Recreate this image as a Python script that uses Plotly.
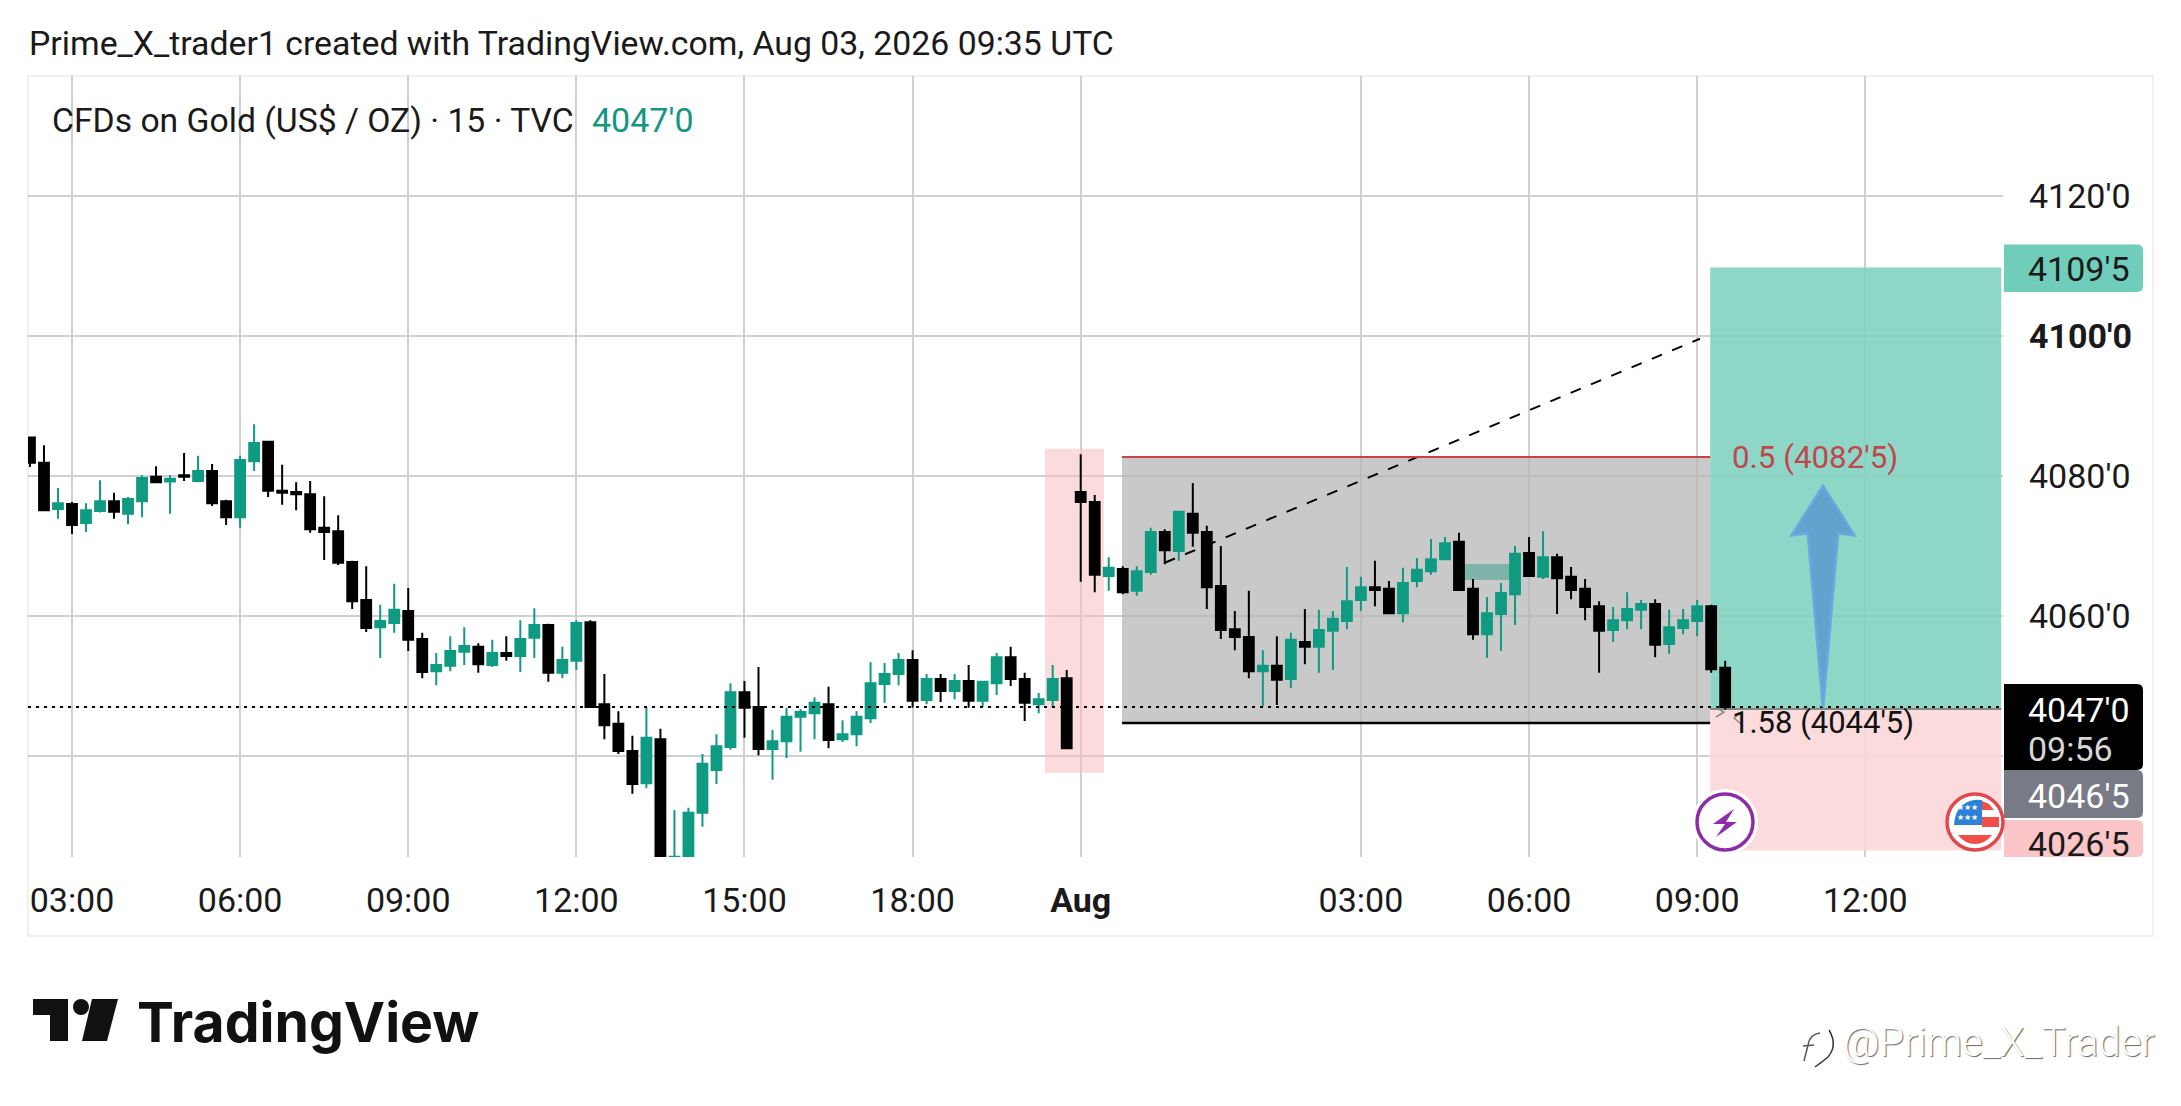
import plotly.graph_objects as go

W, H = 2181, 1106

# plot pane in screen pixels
PANE_LEFT, PANE_RIGHT, PANE_TOP, PANE_BOTTOM = 28, 2003, 76, 857

GREEN = '#0f9a82'
BLACK = '#000000'
FONT = 'Roboto'
TEXT = '#1a1a1a'

# 15 minute bars, index 0 is the 03:00 bar
bar_index = list(range(-3, 119))

opens = [
    4085.5, 4081.9, 4075.3, 4076.0, 4073.3, 4075.0, 4076.4, 4074.6, 4076.4, 4079.9, 4079.2, 4080.1,
    4079.3, 4080.7, 4076.4, 4074.1, 4082.1, 4084.9, 4077.9, 4077.7, 4077.4, 4072.6, 4072.1, 4067.7,
    4062.3, 4058.4, 4059.0, 4060.7, 4056.7, 4052.1, 4052.9, 4054.9, 4055.6, 4053.0, 4054.7, 4054.3,
    4056.9, 4058.7, 4051.9, 4053.6, 4059.1, 4047.4, 4044.6, 4040.7, 4036.1, 4042.4, 4025.2, 4025.0,
    4031.9, 4038.0, 4041.3, 4049.1, 4047.0, 4041.0, 4042.1, 4045.6, 4046.1, 4047.4, 4042.4, 4043.1,
    4045.4, 4050.3, 4051.7, 4053.7, 4048.0, 4051.0, 4049.3, 4050.7, 4047.9, 4050.4, 4054.1, 4051.0,
    4047.4, 4048.0, 4051.1, 4077.7, 4076.3, 4065.7, 4066.7, 4063.6, 4066.3, 4072.0, 4069.3, 4074.6,
    4072.0, 4064.3, 4058.1, 4057.0, 4052.1, 4052.9, 4051.0, 4056.3, 4055.6, 4057.9, 4059.3, 4062.3,
    4064.1, 4063.9, 4060.4, 4065.0, 4066.4, 4068.1, 4070.6, 4063.9, 4057.4, 4060.3, 4063.1, 4069.0,
    4065.6, 4068.4, 4065.6, 4063.9, 4061.4, 4058.0, 4059.4, 4060.9, 4061.7, 4056.0, 4058.3, 4059.3,
    4061.4, 4052.6,
]
closes = [
    4081.9, 4075.1, 4076.1, 4073.0, 4075.1, 4076.4, 4074.9, 4076.7, 4079.7, 4079.1, 4079.6, 4079.9,
    4080.7, 4076.1, 4074.1, 4082.3, 4084.7, 4077.9, 4077.6, 4077.4, 4072.4, 4072.0, 4067.6, 4062.1,
    4058.3, 4059.3, 4060.9, 4056.6, 4052.0, 4053.0, 4055.0, 4055.7, 4053.1, 4054.7, 4054.3, 4056.7,
    4058.7, 4051.9, 4053.7, 4059.0, 4047.0, 4044.4, 4040.7, 4036.0, 4042.6, 4024.5, 4025.6, 4031.9,
    4038.9, 4041.4, 4049.1, 4046.9, 4041.0, 4042.1, 4045.6, 4046.3, 4047.6, 4042.3, 4043.1, 4045.6,
    4050.4, 4051.7, 4053.7, 4047.9, 4051.0, 4049.3, 4050.7, 4047.9, 4050.6, 4054.1, 4051.0, 4047.6,
    4048.1, 4051.0, 4041.1, 4076.3, 4065.9, 4066.9, 4063.4, 4066.4, 4072.0, 4069.4, 4074.9, 4071.9,
    4064.1, 4058.0, 4057.0, 4052.1, 4052.9, 4050.9, 4056.6, 4055.6, 4058.0, 4059.6, 4062.1, 4064.1,
    4063.7, 4060.4, 4064.7, 4066.6, 4068.1, 4070.4, 4063.7, 4057.4, 4060.4, 4063.3, 4068.9, 4065.7,
    4068.4, 4065.4, 4063.7, 4061.3, 4057.9, 4059.4, 4061.0, 4061.7, 4055.9, 4058.4, 4059.4, 4061.4,
    4052.4, 4047.0,
]
highs = [
    4085.5, 4084.4, 4078.3, 4076.3, 4076.1, 4079.4, 4077.6, 4077.0, 4080.1, 4081.4, 4080.1, 4083.3,
    4082.9, 4081.7, 4076.6, 4082.9, 4087.4, 4085.0, 4081.6, 4079.1, 4079.3, 4077.1, 4074.4, 4067.9,
    4067.1, 4061.6, 4064.6, 4064.0, 4057.6, 4054.7, 4057.1, 4058.4, 4056.1, 4056.6, 4057.1, 4059.4,
    4061.1, 4058.9, 4055.6, 4059.4, 4059.4, 4051.7, 4046.4, 4042.9, 4047.0, 4043.9, 4032.3, 4032.6,
    4040.3, 4043.1, 4050.4, 4050.7, 4052.7, 4043.7, 4046.9, 4046.7, 4048.4, 4049.9, 4045.1, 4046.4,
    4053.4, 4053.3, 4054.7, 4055.1, 4051.7, 4051.7, 4051.7, 4053.0, 4050.6, 4054.7, 4055.6, 4051.9,
    4049.0, 4053.0, 4052.3, 4083.1, 4077.3, 4068.4, 4067.1, 4067.1, 4072.6, 4072.4, 4075.0, 4079.0,
    4072.9, 4070.0, 4060.7, 4063.6, 4055.1, 4057.1, 4057.6, 4061.0, 4060.9, 4060.7, 4067.0, 4065.6,
    4067.9, 4065.0, 4066.9, 4068.3, 4071.0, 4071.3, 4071.9, 4065.3, 4062.7, 4064.7, 4070.0, 4071.3,
    4072.1, 4068.9, 4067.0, 4065.3, 4062.1, 4061.3, 4063.4, 4062.3, 4062.4, 4060.9, 4061.0, 4062.3,
    4061.6, 4053.6,
]
lows = [
    4081.3, 4075.1, 4073.9, 4071.7, 4072.0, 4074.8, 4073.9, 4073.1, 4074.1, 4079.0, 4074.6, 4079.3,
    4079.1, 4075.7, 4073.0, 4072.6, 4080.7, 4077.0, 4075.9, 4075.1, 4071.9, 4068.0, 4067.3, 4061.0,
    4057.7, 4054.0, 4057.6, 4055.0, 4051.1, 4050.1, 4052.1, 4053.0, 4051.9, 4052.7, 4053.6, 4052.0,
    4054.0, 4050.6, 4051.1, 4052.3, 4046.9, 4042.4, 4040.3, 4034.6, 4035.4, 4023.5, 4024.0, 4024.5,
    4029.9, 4036.0, 4040.9, 4042.6, 4040.1, 4036.6, 4039.7, 4040.6, 4042.4, 4041.1, 4042.0, 4041.4,
    4044.7, 4047.6, 4050.1, 4046.9, 4047.4, 4047.7, 4048.1, 4046.9, 4047.0, 4048.7, 4050.0, 4045.0,
    4046.1, 4046.9, 4041.1, 4064.9, 4063.4, 4063.6, 4063.1, 4062.9, 4065.9, 4067.4, 4067.9, 4069.9,
    4061.0, 4056.7, 4055.1, 4051.1, 4047.1, 4047.3, 4049.7, 4053.1, 4051.9, 4052.3, 4058.1, 4060.7,
    4061.4, 4060.4, 4059.1, 4064.1, 4065.9, 4068.1, 4063.7, 4056.6, 4054.0, 4055.0, 4058.7, 4065.7,
    4065.3, 4060.3, 4062.4, 4059.4, 4051.9, 4056.3, 4058.1, 4058.1, 4054.1, 4054.6, 4057.4, 4057.1,
    4051.9, 4046.6,
]

price_ticks = [4040, 4060, 4080, 4100, 4120]
price_labels = ['', "4060'0", "4080'0", "<b>4100'0</b>", "4120'0"]
time_ticks = [0, 12, 24, 36, 48, 60, 72, 92, 104, 116, 128]
time_labels = ['03:00', '06:00', '09:00', '12:00', '15:00', '18:00', '<b>Aug</b>',
               '03:00', '06:00', '09:00', '12:00']

# drawing levels
last_price = 4047.0
target_price = 4109.8
entry_price = 4046.7
stop_price = 4026.5
box_top = 4082.7
box_bottom = 4044.7


def xrel(x):
    return x / W


def yrel(y):
    return 1 - y / H


def pts(path):
    # path given as screen pixels, turned into paper fractions
    out = []
    for tok in path.split():
        if ',' in tok:
            a, b = tok.split(',')
            out.append(f'{xrel(float(a)):.5f},{yrel(float(b)):.5f}')
        else:
            out.append(tok)
    return ' '.join(out)


def paper_shape(path, fill=None, line=None, width=0, layer='above'):
    return dict(type='path', xref='paper', yref='paper', path=pts(path), layer=layer,
                fillcolor=fill if fill else 'rgba(0,0,0,0)',
                line=dict(color=line if line else 'rgba(0,0,0,0)', width=width))


def paper_circle(cx, cy, r, fill, line=None, width=0):
    return dict(type='circle', xref='paper', yref='paper', layer='above',
                x0=xrel(cx - r), x1=xrel(cx + r), y0=yrel(cy + r), y1=yrel(cy - r),
                fillcolor=fill, line=dict(color=line if line else 'rgba(0,0,0,0)', width=width))


def label_box(y0, y1, color):
    x0, x1, r = 2004, 2143, 6
    return paper_shape(f'M {x0},{y0} L {x1 - r},{y0} Q {x1},{y0} {x1},{y0 + r} '
                       f'L {x1},{y1 - r} Q {x1},{y1} {x1 - r},{y1} L {x0},{y1} Z', fill=color)


def text(x, y, s, size=34, color=TEXT, anchor='left', family=FONT, **font_kw):
    return dict(xref='paper', yref='paper', x=xrel(x), y=yrel(y), text=s, showarrow=False,
                xanchor=anchor, yanchor='middle', borderpad=0,
                font=dict(family=family, size=size, color=color, **font_kw))


def data_rect(x0, x1, y0, y1, fill, layer='between'):
    return dict(type='rect', xref='x', yref='y', x0=x0, x1=x1, y0=y0, y1=y1,
                fillcolor=fill, line=dict(width=0), layer=layer)


def data_line(x0, x1, y0, y1, color, width, dash='solid', layer='between'):
    return dict(type='line', xref='x', yref='y', x0=x0, x1=x1, y0=y0, y1=y1,
                line=dict(color=color, width=width, dash=dash), layer=layer)


fig = go.Figure()

fig.add_trace(go.Candlestick(
    x=bar_index, open=opens, high=highs, low=lows, close=closes,
    increasing=dict(line=dict(color=GREEN, width=2), fillcolor=GREEN),
    decreasing=dict(line=dict(color=BLACK, width=2), fillcolor=BLACK),
    whiskerwidth=0, showlegend=False, hoverinfo='skip',
))

shapes = [
    # outer frame of the snapshot
    dict(type='rect', xref='paper', yref='paper', layer='below',
         x0=xrel(28), x1=xrel(2153), y0=yrel(936), y1=yrel(76),
         line=dict(color='#f0f0f0', width=2), fillcolor='rgba(0,0,0,0)'),
    # pink highlight around the gap
    data_rect(69.45, 73.66, 4037.6, 4083.9, 'rgba(250,190,192,0.55)'),
    # grey range box
    data_rect(74.95, 116.93, box_bottom, box_top, 'rgba(180,180,180,0.72)'),
    # fair value gap
    data_rect(99.0, 103.0, 4065.14, 4067.43, '#7fb5a8'),
    # long position tool
    data_rect(116.93, 137.7, entry_price, target_price, 'rgba(130,210,192,0.9)'),
    data_rect(116.93, 137.7, stop_price, entry_price, 'rgba(251,215,216,0.9)'),
    data_line(116.93, 137.7, entry_price, entry_price, '#7e8a86', 2),
    data_line(78.0, 116.2, 4067.6, 4099.6, BLACK, 2, dash='11px,11px'),
    data_line(74.95, 116.93, box_top, box_top, '#c9404a', 2),
    data_line(74.95, 116.93, box_bottom, box_bottom, BLACK, 2.5),
    data_line(-3.14, 137.8, last_price, last_price, BLACK, 2, dash='3px,5px', layer='above'),
    # blue arrow
    paper_shape('M 1823,486 L 1854,535 L 1838,533 L 1823,707 L 1808,533 L 1792,535 Z',
                fill='rgba(85,150,205,0.8)', line='rgba(105,165,225,0.9)', width=3),
    # small chevrons at the entry label
    paper_shape('M 1716,708 L 1724,712 L 1716,717', line='#8a8a8a', width=1.5),
    paper_shape('M 1741,713 L 1734,718 L 1741,724', line='#8a8a8a', width=1.5),
    # price labels on the scale
    label_box(244.5, 292, '#6fcdb9'),
    label_box(820, 857, '#fcc6c8'),
    label_box(770, 818, '#787b86'),
    label_box(684, 770, BLACK),
    # lightning icon
    paper_circle(1725, 822, 33, '#ffffff'),
    paper_circle(1725, 822, 28, '#ffffff', line='#8e2ba8', width=3.5),
    paper_shape('M 1734,809 L 1713,824 L 1725,824 L 1716,837 L 1737,822 L 1726,822 Z', fill='#8e2ba8'),
    # flag icon
    paper_circle(1975, 822, 28, '#ffffff', line='#e2474f', width=3.5),
    paper_shape('M 1982,800 L 1982,825 L 1954,825 Q 1955,806 1970,801 Q 1976,799 1982,800 Z', fill='#2f80d8'),
    paper_shape('M 1982,801 L 1989,804 L 1994,810 L 1982,810 Z', fill='#ee5048'),
    paper_shape('M 1982,817 L 1999,817 L 1999,827 L 1982,827 Z', fill='#ee5048'),
    paper_shape('M 1958,835 L 1992,835 Q 1985,844 1975,844 Q 1965,844 1958,835 Z', fill='#ee5048'),
    # TradingView mark
    paper_shape('M 33,999 L 68,999 L 68,1041 L 50,1041 L 50,1015 L 33,1015 Z', fill='#111111'),
    paper_circle(81, 1007, 8, '#111111'),
    paper_shape('M 92,999 L 118,999 L 107,1041 L 82,1041 Z', fill='#111111'),
    # watermark glyph
    paper_shape('M 1829,1030 Q 1838,1045 1828,1057 Q 1822,1062 1815,1067', line='#333333', width=1.5),
    paper_shape('M 1820,1033 Q 1810,1034 1808,1045 L 1804,1061', line='#555555', width=1.5),
    paper_shape('M 1803,1046 L 1814,1045', line='#555555', width=1.5),
]

annotations = [
    text(28, 43, 'Prime_X_trader1 created with TradingView.com, Aug 03, 2026 09:35 UTC', size=33.8),
    text(51, 120, 'CFDs on Gold (US$ / OZ) · 15 · TVC', size=33.7),
    text(591, 120, "4047'0", size=34, color='#14967f'),
    text(1731, 457, "0.5 (4082'5)", size=31.3, color='#c0474f'),
    text(1731, 722, "1.58 (4044'5)", size=31, color='#111111'),
    text(2027, 269, "4109'5"),
    text(2027, 710, "4047'0", color='#ffffff'),
    text(2027, 749, '09:56', color='#d6d6d6'),
    text(2027, 796, "4046'5", color='#ffffff'),
    text(2027, 844, "4026'5"),
    text(1956, 812, '★★★<br>★★★', size=8, color='#ffffff'),
    text(136, 1021, '<b>TradingView</b>', size=55.3, color='#111111', family='Inter'),
    text(1842, 1042, '@Prime_X_Trader', size=40, color='#ffffff', family='Roboto', weight=300,
         shadow='1px 1px 1px #666666'),
]

fig.update_layout(
    width=W, height=H, autosize=False,
    margin=dict(l=0, r=0, t=0, b=0),
    paper_bgcolor='white', plot_bgcolor='white',
    boxgap=0.3, boxgroupgap=0,
    showlegend=False,
    shapes=shapes,
    annotations=annotations,
    xaxis=dict(
        domain=[xrel(PANE_LEFT), xrel(PANE_RIGHT)],
        range=[-3.14, 137.83],
        rangeslider=dict(visible=False),
        tickmode='array', tickvals=time_ticks, ticktext=time_labels,
        tickfont=dict(family=FONT, size=34, color=TEXT),
        ticklabelstandoff=20, tickangle=0,
        showgrid=True, gridcolor='#d0d0d0', gridwidth=2,
        zeroline=False, showline=False, ticks='',
    ),
    yaxis=dict(
        domain=[yrel(PANE_BOTTOM), yrel(PANE_TOP)],
        range=[4025.57, 4137.14],
        side='right',
        tickmode='array', tickvals=price_ticks, ticktext=price_labels,
        tickfont=dict(family=FONT, size=34, color=TEXT),
        ticklabelstandoff=25,
        showgrid=True, gridcolor='#d0d0d0', gridwidth=2,
        zeroline=False, showline=False, ticks='',
    ),
)

fig.write_html('out.html', config=dict(displayModeBar=False),
               post_script="document.body.style.margin='0';document.body.style.overflow='hidden';")
